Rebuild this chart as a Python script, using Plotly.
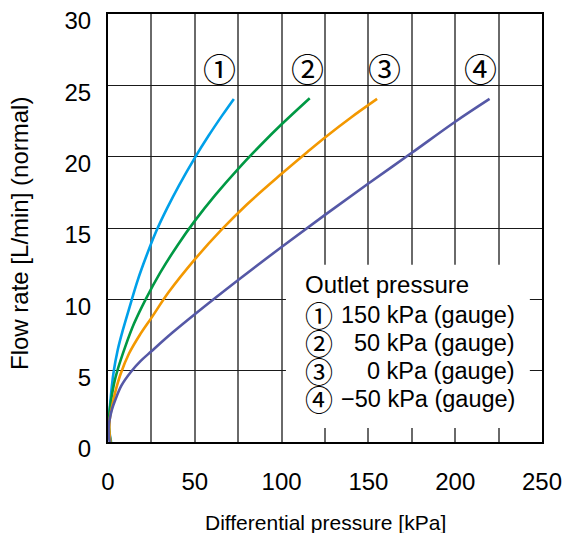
import plotly.graph_objects as go

# ---- data ----
x_ticks = [0, 50, 100, 150, 200, 250]
y_ticks = [0, 5, 10, 15, 20, 25, 30]

c1_x = [1.8, 0.6, 0.8, 1.5, 2.3, 3.3, 5.5, 8.0, 10.6, 13.5, 17.0, 22.0, 27.9, 34.0, 41.0, 50.0, 58.0, 66.0, 72.5]
c1_y = [0.0, 1.0, 2.0, 3.0, 4.0, 4.96, 6.4, 7.6, 8.7, 9.9, 11.3, 13.0, 14.8, 16.37, 18.01, 19.92, 21.48, 22.93, 24.05]

c2_x = [1.5, 0.5, 0.8, 2.0, 3.5, 5.3, 10.0, 15.0, 21.7, 30.0, 40.0, 50.0, 62.0, 75.0, 88.0, 100.0, 116.2]
c2_y = [0.0, 1.0, 2.0, 3.1, 4.1, 4.96, 6.7, 8.3, 10.0, 11.85, 13.78, 15.5, 17.34, 19.15, 20.82, 22.27, 24.1]

c3_x = [1.4, 0.8, 1.0, 2.5, 4.5, 7.2, 12.1, 18.3, 25.0, 35.0, 50.0, 65.0, 80.0, 100.0, 115.0, 125.0, 140.0, 155.0]
c3_y = [0.0, 0.8, 1.6, 2.6, 3.65, 4.75, 6.2, 7.5, 8.7, 10.51, 12.8, 14.83, 16.65, 18.8, 20.35, 21.35, 22.75, 24.05]

c4_x = [1.0, 0.4, 0.5, 1.0, 2.2, 3.9, 7.7, 13.5, 19.0, 25.0, 37.0, 50.0, 75.0, 100.0, 125.0, 150.0, 175.0, 200.0, 219.8]
c4_y = [0.0, 0.6, 1.2, 1.6, 2.25, 2.85, 3.95, 4.96, 5.7, 6.36, 7.65, 8.95, 11.35, 13.67, 15.92, 18.12, 20.27, 22.45, 24.05]

curve_labels = ["①", "②", "③", "④"]
label_x = [64.4, 114.8, 159.0, 214.6]
label_y = [26.25, 26.25, 26.25, 26.25]

legend_title = "Outlet pressure"
legend_values = ["150 kPa (gauge)", "50 kPa (gauge)", "0 kPa (gauge)", "\u221250 kPa (gauge)"]
legend_rows_y = [8.93, 6.95, 4.96, 2.98]

colors = ["#00a0e9", "#009944", "#f39800", "#5558a6"]

FONT = "Liberation Sans, Arial, sans-serif"
CJK = "Noto Sans CJK JP"

fig = go.Figure()
for xs, ys, col in [(c1_x, c1_y, colors[0]), (c2_x, c2_y, colors[1]),
                    (c3_x, c3_y, colors[2]), (c4_x, c4_y, colors[3])]:
    fig.add_trace(go.Scatter(x=xs, y=ys, mode="lines",
                             line=dict(color=col, width=2.6, shape="spline", smoothing=1.0),
                             showlegend=False, hoverinfo="skip"))

# legend white box
fig.add_shape(type="rect", xref="x", yref="y", x0=102.5, x1=243.0, y0=0.99, y1=12.43,
              fillcolor="white", line=dict(width=0), layer="above")

ann = []
for t, lx, ly in zip(curve_labels, label_x, label_y):
    ann.append(dict(x=lx, y=ly, xref="x", yref="y", text=t, showarrow=False,
                    font=dict(family=CJK, size=33, color="black"),
                    xanchor="center", yanchor="middle"))
ann.append(dict(x=112.5, y=11.03, xref="x", yref="y", text=legend_title, showarrow=False,
                font=dict(family=FONT, size=24, color="black"),
                xanchor="left", yanchor="middle"))
for t, v, ry in zip(curve_labels, legend_values, legend_rows_y):
    ann.append(dict(x=121.8, y=ry, xref="x", yref="y", text=t, showarrow=False,
                    font=dict(family=CJK, size=28, color="black"),
                    xanchor="center", yanchor="middle"))
    ann.append(dict(x=235.6, y=ry, xref="x", yref="y", text=v, showarrow=False,
                    font=dict(family=FONT, size=23.5, color="black"),
                    xanchor="right", yanchor="middle"))
# axis titles
ann.append(dict(x=0.5, y=0, xref="paper", yref="paper", text="Differential pressure [kPa]",
                showarrow=False, font=dict(family=FONT, size=21, color="black"),
                xanchor="center", yanchor="middle", yshift=-80))
ann.append(dict(x=0, y=0.5, xref="paper", yref="paper", text="Flow rate [L/min] (normal)",
                showarrow=False, font=dict(family=FONT, size=24, color="black"),
                textangle=-90, xanchor="center", yanchor="middle", xshift=-89, yshift=-6))

fig.update_layout(
    width=564, height=533,
    margin=dict(l=108, r=22, t=14, b=91, autoexpand=False),
    paper_bgcolor="white", plot_bgcolor="white",
    font=dict(family=FONT, size=24, color="black"),
    annotations=ann,
    showlegend=False,
)
fig.update_xaxes(range=[0, 250], tickvals=x_ticks, ticktext=[str(v) for v in x_ticks],
                 showgrid=True, gridcolor="#6a6a6a", gridwidth=1.6, automargin=False,
                 minor=dict(dtick=25, showgrid=True, gridcolor="#6a6a6a", gridwidth=1.6),
                 showline=True, linecolor="black", linewidth=2, mirror=True,
                 ticks="", ticklabelstandoff=17, zeroline=False, ticklabeloverflow="allow",
                 tickfont=dict(family=FONT, size=24))
fig.update_yaxes(range=[0, 30], tickvals=y_ticks, ticktext=[str(v) for v in y_ticks],
                 showgrid=True, gridcolor="#1a1a1a", gridwidth=1.2, automargin=False,
                 showline=True, linecolor="black", linewidth=2, mirror=True,
                 ticks="", ticklabelstandoff=10, ticklabelshift=7, zeroline=False,
                 ticklabeloverflow="allow",
                 tickfont=dict(family=FONT, size=24))

# remove the browser's default 8px body margin so the figure fills the window exactly
fig.write_html("out.html", config={"displayModeBar": False},
               post_script="document.body.style.margin='0';document.body.style.overflow='hidden';")
